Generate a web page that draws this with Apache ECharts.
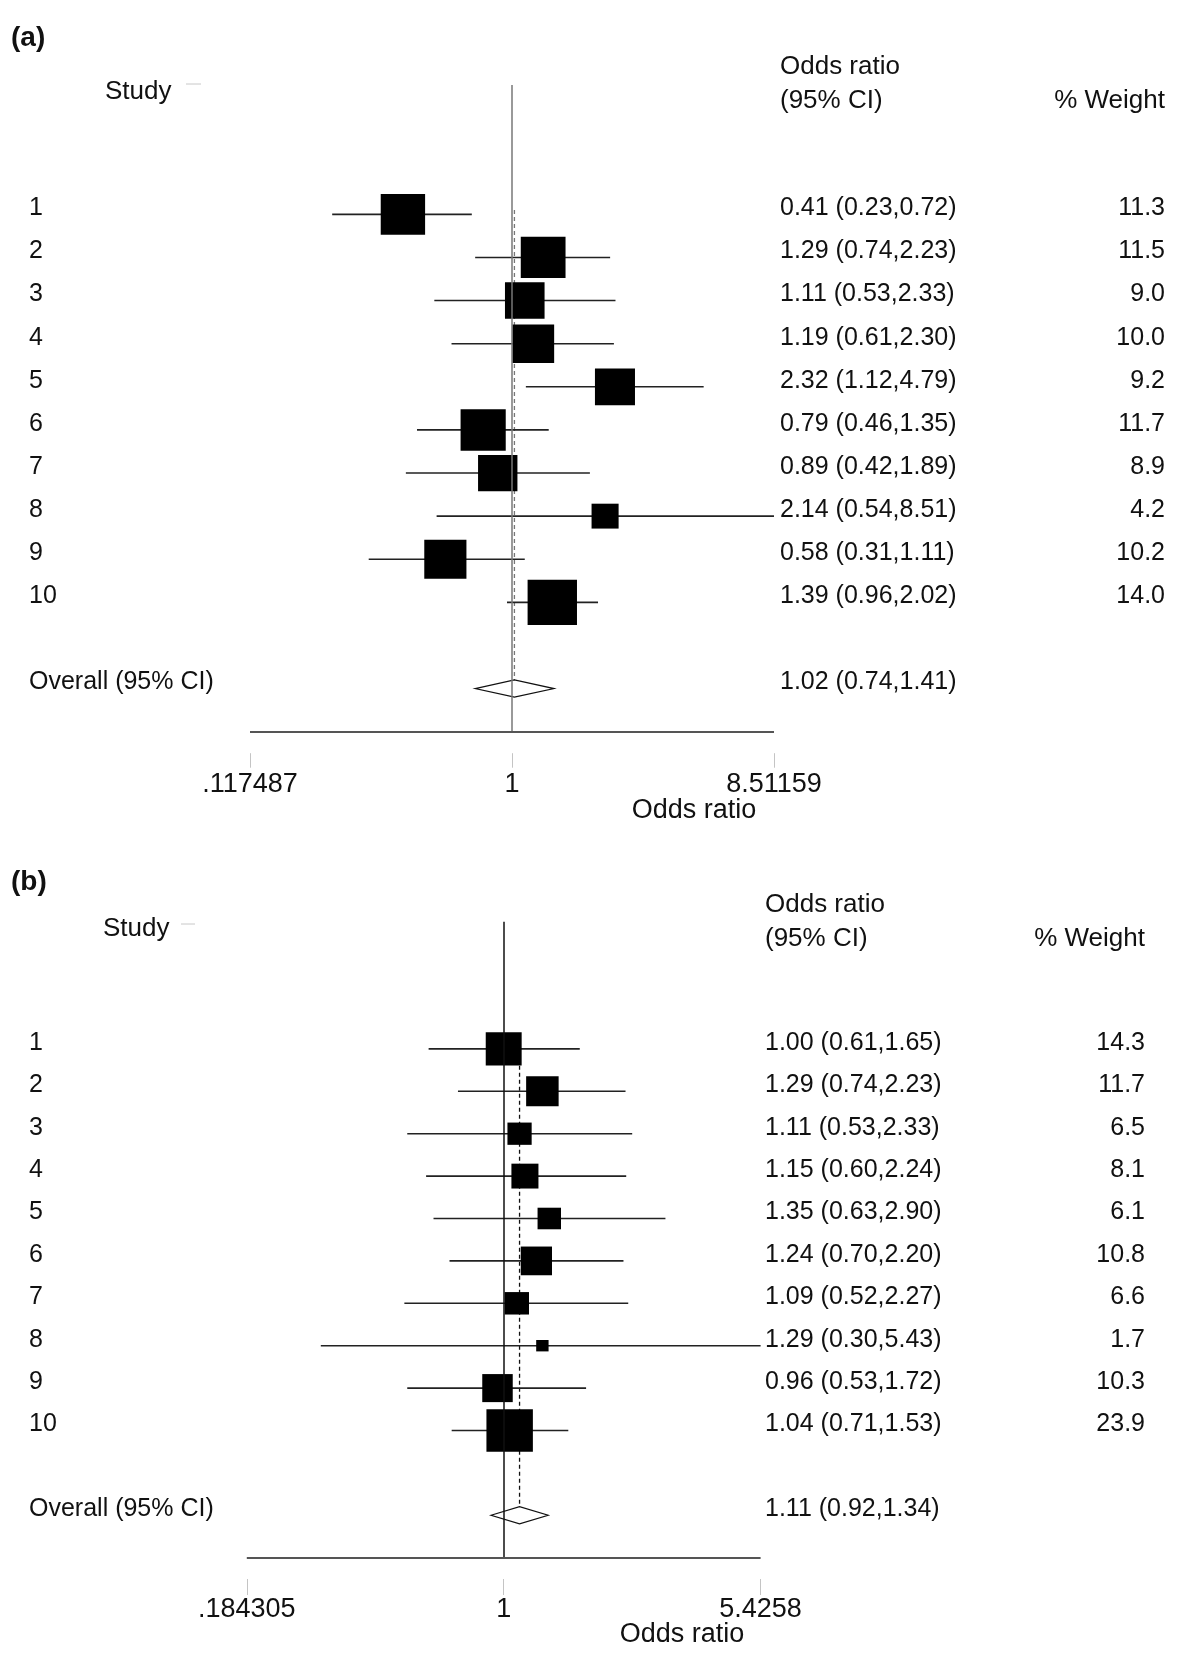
<!DOCTYPE html>
<html><head><meta charset="utf-8">
<script src="https://cdn.jsdelivr.net/npm/echarts@6/dist/echarts.min.js"></script>
<style>html,body{margin:0;padding:0;background:#fff}#c{width:1200px;height:1659px}</style>
</head><body><div id="c"></div>
<script>
// ---------- data ----------
const studies = ['1','2','3','4','5','6','7','8','9','10'];

// panel (a)
const orA = [0.41, 1.29, 1.11, 1.19, 2.32, 0.79, 0.89, 2.14, 0.58, 1.39];
const loA = [0.23, 0.74, 0.53, 0.61, 1.12, 0.46, 0.42, 0.54, 0.31, 0.96];
const hiA = [0.72, 2.23, 2.33, 2.30, 4.79, 1.35, 1.89, 8.51, 1.11, 2.02];
const wA  = [11.3, 11.5, 9.0, 10.0, 9.2, 11.7, 8.9, 4.2, 10.2, 14.0];
const overallA = [1.02, 0.74, 1.41];
const ticksA = ['.117487', '1', '8.51159'];

// panel (b)
const orB = [1.00, 1.29, 1.11, 1.15, 1.35, 1.24, 1.09, 1.29, 0.96, 1.04];
const loB = [0.61, 0.74, 0.53, 0.60, 0.63, 0.70, 0.52, 0.30, 0.53, 0.71];
const hiB = [1.65, 2.23, 2.33, 2.24, 2.90, 2.20, 2.27, 5.43, 1.72, 1.53];
const wB  = [14.3, 11.7, 6.5, 8.1, 6.1, 10.8, 6.6, 1.7, 10.3, 23.9];
const overallB = [1.11, 0.92, 1.34];
const ticksB = ['.184305', '1', '5.4258'];

const overallLabel = 'Overall (95% CI)';
const FONT = '"Liberation Sans", Arial, Helvetica, sans-serif';

function fmtCI(o, l, h) { return o.toFixed(2) + ' (' + l.toFixed(2) + ',' + h.toFixed(2) + ')'; }
const ln = Math.log;

const panels = [
  { tag: '(a)', or: orA, lo: loA, hi: hiA, w: wA, overall: overallA, ticks: ticksA,
    grid: { left: 250, top: 85, width: 524, height: 646.7 },
    k: 13.2, labelX: 29, orX: 780, wX: 1165,
    tagY: 38, studyX: 105, studyY: 92, dashX: [186, 201], dashY: 84,
    hdr1Y: 67, hdr2Y: 101, titleX: 694, titleY: 811,
    nullColor: '#777', dashColor: '#777', offset: 21.5, tickLen: 14.5, margin: 18 },
  { tag: '(b)', or: orB, lo: loB, hi: hiB, w: wB, overall: overallB, ticks: ticksB,
    grid: { left: 246.8, top: 921.7, width: 513.8, height: 636 },
    k: 9.5, labelX: 29, orX: 765, wX: 1145,
    tagY: 882, studyX: 103, studyY: 929, dashX: [181, 195], dashY: 924,
    hdr1Y: 905, hdr2Y: 939, titleX: 682, titleY: 1635,
    nullColor: '#111', dashColor: '#111', offset: 21.3, tickLen: 16, margin: 17 }
];

const grids = [], xAxes = [], yAxes = [], series = [], graphics = [];

function txt(x, y, text, size, align, bold) {
  return { type: 'text', x: x, y: y, silent: true,
    style: { text: text, fontSize: size, fontFamily: FONT, fontWeight: bold ? 'bold' : 'normal',
      fill: '#111', align: align, textAlign: align, verticalAlign: 'middle', textVerticalAlign: 'middle' } };
}

panels.forEach(function (P, pi) {
  const tickVals = P.ticks.map(parseFloat);
  // odds ratios are placed on a natural-log scale, symmetric about OR = 1
  const half = (ln(tickVals[2]) - ln(tickVals[0])) / 2;
  grids.push(Object.assign({ outerBoundsMode: 'none', containLabel: false }, P.grid));
  xAxes.push({
    type: 'value', gridIndex: pi, position: 'bottom', min: -half, max: half, interval: half, offset: P.offset,
    axisLine: { show: false, onZero: false },
    axisTick: { show: true, length: P.tickLen, lineStyle: { color: '#c4c4c4', width: 1 } },
    axisLabel: { show: true, margin: P.margin, fontSize: 27, fontFamily: FONT, color: '#111',
      showMinLabel: true, showMaxLabel: true, hideOverlap: false,
      formatter: function (v) {
        let best = 0, bd = Infinity;
        tickVals.forEach(function (t, i) { const d = Math.abs(v - ln(t)); if (d < bd) { bd = d; best = i; } });
        return P.ticks[best];
      } },
    splitLine: { show: false }, minorTick: { show: false }, minorSplitLine: { show: false }
  });
  yAxes.push({ type: 'value', gridIndex: pi, min: -2, max: 13, inverse: true, show: false,
    axisLine: { onZero: false } });

  const orTexts = P.or.map(function (o, i) { return fmtCI(o, P.lo[i], P.hi[i]); });
  const wTexts = P.w.map(function (w) { return w.toFixed(1); });

  // reference lines (null line and axis baseline) + overall diamond
  series.push({
    type: 'custom', xAxisIndex: pi, yAxisIndex: pi, z: 1, clip: false, silent: true, animation: false,
    data: [[12, P.overall[0], P.overall[1], P.overall[2]]],
    renderItem: function (params, api) {
      const pos = api.value(0), o = api.value(1), l = api.value(2), h = api.value(3);
      const y = api.coord([0, pos])[1];
      const xo = api.coord([ln(o), pos])[0], xl = api.coord([ln(l), pos])[0], xh = api.coord([ln(h), pos])[0];
      const yTop = api.coord([0, 0.9])[1];
      const hh = 8.6;
      return { type: 'group', children: [
        { type: 'line', shape: { x1: xo, y1: yTop, x2: xo, y2: y + hh },
          style: { stroke: P.dashColor, lineWidth: 1.3, lineDash: [4, 3] } },
        { type: 'polygon', shape: { points: [[xl, y], [xo, y - hh], [xh, y], [xo, y + hh]] },
          style: { fill: '#fff', stroke: '#111', lineWidth: 1.2 } },
        { type: 'text', x: P.labelX, y: y - 6, style: { text: overallLabel, fontSize: 25, fontFamily: FONT, fill: '#111', align: 'left', verticalAlign: 'middle' } },
        { type: 'text', x: P.orX, y: y - 6, style: { text: fmtCI(o, l, h), fontSize: 25, fontFamily: FONT, fill: '#111', align: 'left', verticalAlign: 'middle' } }
      ] };
    },
    markLine: {
      silent: true, symbol: ['none', 'none'], animation: false, label: { show: false },
      emphasis: { disabled: true },
      data: [
        { xAxis: 0, lineStyle: { color: P.nullColor, width: 1.5, type: 'solid' } },
        { yAxis: 13, lineStyle: { color: '#555', width: 2, type: 'solid' } }
      ]
    }
  });

  // studies
  series.push({
    type: 'custom', xAxisIndex: pi, yAxisIndex: pi, z: 3, clip: false, silent: true, animation: false,
    data: studies.map(function (s, i) { return [i + 1, P.or[i], P.lo[i], P.hi[i], P.w[i]]; }),
    renderItem: function (params, api) {
      const i = params.dataIndex;
      const pos = api.value(0), o = api.value(1), l = api.value(2), h = api.value(3), w = api.value(4);
      const cs = params.coordSys;
      const y = api.coord([0, pos])[1];
      const xo = api.coord([ln(o), pos])[0];
      const xl = Math.max(api.coord([ln(l), pos])[0], cs.x);
      const xh = Math.min(api.coord([ln(h), pos])[0], cs.x + cs.width);
      const s = P.k * Math.sqrt(w), bh = s * 0.92;
      return { type: 'group', children: [
        { type: 'line', shape: { x1: xl, y1: y, x2: xh, y2: y }, style: { stroke: '#222', lineWidth: 1.6 } },
        { type: 'rect', shape: { x: xo - s / 2, y: y - bh / 2, width: s, height: bh }, style: { fill: '#000' } },
        { type: 'text', x: P.labelX, y: y - 6, style: { text: studies[i], fontSize: 25, fontFamily: FONT, fill: '#111', align: 'left', verticalAlign: 'middle' } },
        { type: 'text', x: P.orX, y: y - 6, style: { text: orTexts[i], fontSize: 25, fontFamily: FONT, fill: '#111', align: 'left', verticalAlign: 'middle' } },
        { type: 'text', x: P.wX, y: y - 6, style: { text: wTexts[i], fontSize: 25, fontFamily: FONT, fill: '#111', align: 'right', verticalAlign: 'middle' } }
      ] };
    }
  });

  // static texts
  graphics.push(txt(11, P.tagY, P.tag, 28, 'left', true));
  graphics.push(txt(P.studyX, P.studyY, 'Study', 26, 'left'));
  graphics.push({ type: 'line', silent: true, shape: { x1: P.dashX[0], y1: P.dashY, x2: P.dashX[1], y2: P.dashY },
    style: { stroke: '#c8c8c8', lineWidth: 1 } });
  graphics.push(txt(P.orX, P.hdr1Y, 'Odds ratio', 26, 'left'));
  graphics.push(txt(P.orX, P.hdr2Y, '(95% CI)', 26, 'left'));
  graphics.push(txt(P.wX, P.hdr2Y, '% Weight', 26, 'right'));
  graphics.push(txt(P.titleX, P.titleY, 'Odds ratio', 27, 'center'));
});

const chart = echarts.init(document.getElementById('c'), null, { renderer: 'canvas' });
chart.setOption({
  backgroundColor: '#fff',
  animation: false,
  grid: grids, xAxis: xAxes, yAxis: yAxes, series: series,
  graphic: { elements: graphics }
});
</script>
</body></html>
